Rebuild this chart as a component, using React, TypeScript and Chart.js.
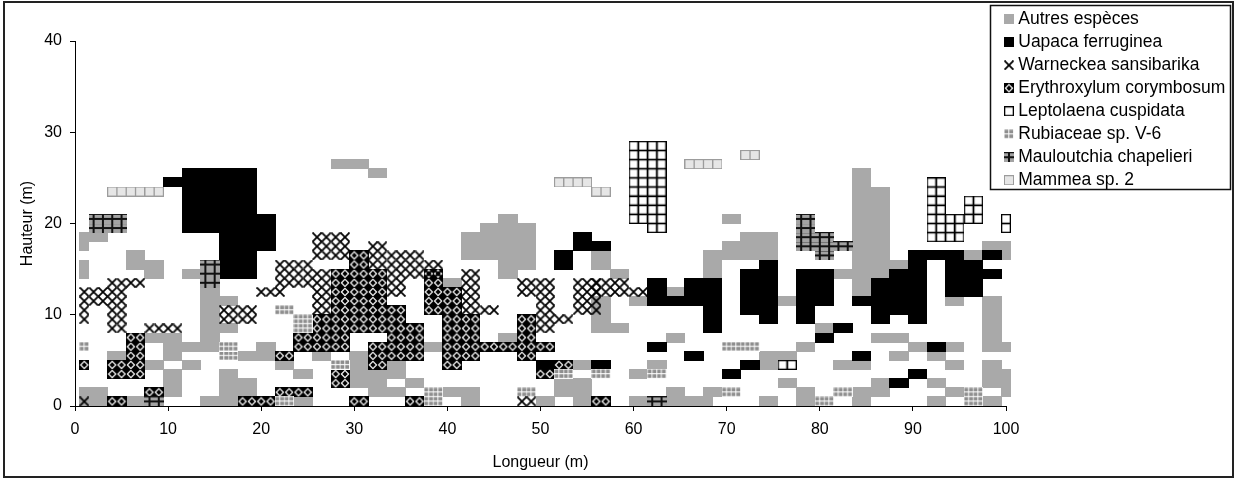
import React, { useEffect, useRef } from 'react';
import { Chart, registerables } from 'chart.js';

Chart.register(...registerables);

// ---------- data (cells of 1 m: [colFrom, colTo, rowFrom, rowTo], inclusive; col = x centre in m, row = height band in m) ----------
const speciesNames = [
  'Autres espèces',
  'Uapaca ferruginea',
  'Warneckea sansibarika',
  'Erythroxylum corymbosum',
  'Leptolaena cuspidata',
  'Rubiaceae sp. V-6',
  'Mauloutchia chapelieri',
  'Mammea sp. 2',
];
const speciesKinds = ['G', 'U', 'W', 'E', 'L', 'R', 'M', 'm'];
const drawOrder = [10, 6, 1, 5, 4, 3, 2, 3];

const autresCells = [
  [1,3,18,18],[1,1,17,17],[1,1,14,15],[6,7,16,16],[6,9,15,15],[8,9,14,14],
  [4,5,5,5],[8,11,7,7],[10,11,5,6],[8,9,4,4],[10,11,1,3],[1,3,0,1],[6,7,0,0],
  [12,13,14,14],[14,15,6,12],[12,13,6,6],[12,13,4,4],[16,17,11,11],[16,17,8,8],[18,19,5,5],[20,21,5,6],[16,17,0,3],[18,19,1,2],[14,15,0,0],
  [28,31,26,26],[32,33,25,25],[22,23,4,4],[26,27,5,5],[24,25,3,3],[30,31,2,5],[32,33,1,3],[24,25,0,0],
  [40,41,13,13],[38,39,6,6],[34,35,3,4],[36,37,2,2],[34,35,1,1],[40,41,1,1],[42,43,0,1],[42,43,16,18],[44,45,16,19],
  [46,47,14,20],[48,49,15,19],[46,47,7,7],[52,55,1,2],[54,55,4,4],[50,51,0,0],[54,55,0,0],
  [56,57,15,16],[58,59,14,14],[56,57,8,11],[58,59,8,8],[60,61,11,11],[64,65,12,12],[64,65,7,7],[60,61,3,3],[62,63,4,4],[60,68,0,0],[64,65,1,1],
  [70,71,20,20],[72,75,16,18],[70,71,16,17],[68,69,14,16],[76,77,11,11],[74,75,4,5],[76,77,5,5],[78,79,6,6],[76,77,2,2],[68,69,1,1],[74,75,0,0],[78,79,0,1],
  [84,85,12,25],[86,87,14,23],[88,89,15,15],[82,83,14,14],[80,81,8,8],[86,89,7,7],[88,89,5,5],[82,85,4,4],[86,87,1,2],[84,85,0,1],
  [96,97,16,16],[98,100,17,17],[100,100,16,16],[94,95,11,11],[98,99,6,11],[100,100,6,6],[90,91,6,6],[94,95,6,6],[92,93,5,5],[94,95,4,4],[92,93,2,2],[94,95,1,1],[98,99,2,4],[100,100,1,3],[92,93,0,0],[98,99,0,0],
];
const uapacaCells = [
  [10,11,24,24],[12,19,19,25],[20,21,17,20],[16,19,14,18],
  [54,55,17,18],[52,53,15,16],[56,57,17,17],[50,51,4,4],[56,57,4,4],
  [62,63,11,13],[64,65,11,11],[66,67,11,13],[68,69,8,13],[62,63,6,6],[66,67,5,5],
  [72,73,10,14],[74,75,9,15],[78,81,11,14],[78,79,9,10],[72,73,4,4],[70,71,3,3],
  [84,85,11,11],[86,87,9,13],[88,89,10,14],[90,91,9,16],[82,83,8,8],[80,81,7,7],[84,85,5,5],[88,89,2,2],[90,91,3,3],
  [92,95,16,16],[94,97,12,15],[98,99,16,16],[98,99,14,14],[92,93,6,6],
];
const warneckeaCells = [
  [4,7,13,13],[1,5,11,12],[1,1,9,10],[4,5,8,10],[8,11,8,8],[1,1,0,0],
  [16,19,9,10],[20,22,12,12],[22,25,13,15],[26,27,10,14],[26,29,16,18],[32,33,15,17],[34,37,16,16],[34,39,14,15],[34,35,12,13],
  [42,43,10,14],[44,45,10,10],[48,51,12,13],[50,51,8,11],[52,53,9,9],[54,56,10,13],[48,49,0,0],[56,59,12,13],[60,61,12,12],
];
const erythroxylumCells = [
  [1,1,4,4],[6,7,3,7],[4,5,3,4],[4,5,0,0],[8,9,1,1],
  [22,22,5,5],[18,21,0,0],[22,25,1,1],
  [30,31,8,16],[28,29,8,14],[32,33,8,14],[26,27,8,9],[24,29,6,7],[23,23,5,5],[28,29,2,3],[32,33,4,6],[30,31,0,0],
  [38,39,10,14],[40,41,5,12],[42,43,5,9],[34,35,5,10],[36,37,5,8],[44,45,6,6],[40,41,4,4],[36,37,0,0],
  [48,49,5,9],[45,51,6,6],[50,51,3,3],[52,53,4,4],[56,57,0,0],
];
const leptolaenaCells = [
  [60,61,20,28],[62,63,19,28],[76,77,4,4],[92,93,18,24],[94,95,18,20],[96,97,20,22],[100,100,19,20],
];
const rubiaceaeCells = [
  [1,1,6,6],[22,23,10,10],[24,25,8,9],[16,17,5,6],[28,29,4,4],[22,23,0,0],[38,39,0,1],[48,49,1,1],
  [52,53,3,3],[56,57,3,3],[62,63,3,3],[70,73,6,6],[70,71,1,1],[80,81,0,0],[82,83,1,1],[96,97,0,1],
];
const mauloutchiaCells = [
  [2,5,19,20],[14,15,13,15],[8,9,0,0],[62,63,0,0],[78,79,17,20],[80,81,16,18],[82,83,17,17],
];
const mammeaCells = [
  [4,9,23,23],[52,55,24,24],[56,57,23,23],[66,69,26,26],[72,73,27,27],
];
const speciesCells = [
  autresCells, uapacaCells, warneckeaCells, erythroxylumCells,
  leptolaenaCells, rubiaceaeCells, mauloutchiaCells, mammeaCells,
];

const xTitle = 'Longueur (m)';
const yTitle = 'Hauteur (m)';
const FONT = "'Liberation Sans', Arial, Helvetica, sans-serif";

// ---------- helpers ----------
function cellsToPoints(rects: number[][]) {
  const pts: { x: number; y: number }[] = [];
  for (const [c0, c1, r0, r1] of rects) {
    for (let c = c0; c <= c1; c++) {
      for (let r = r0; r <= r1; r++) pts.push({ x: c, y: r + 0.5 });
    }
  }
  return pts;
}

const imageCache: Record<string, HTMLCanvasElement> = {};
function cellImage(kind: string, chart: any): HTMLCanvasElement {
  let w = 9.31;
  let h = 9.125;
  const xs = chart && chart.scales ? chart.scales.x : null;
  const ys = chart && chart.scales ? chart.scales.y : null;
  if (xs && ys) {
    const ww = Math.abs(xs.getPixelForValue(1) - xs.getPixelForValue(0));
    const hh = Math.abs(ys.getPixelForValue(1) - ys.getPixelForValue(0));
    if (isFinite(ww) && ww > 2 && isFinite(hh) && hh > 2) {
      w = ww;
      h = hh;
    }
  }
  const W = Math.round(w) + 1;
  const H = Math.round(h) + 1;
  const key = kind + ':' + W + 'x' + H;
  if (imageCache[key]) return imageCache[key];
  const cv = document.createElement('canvas');
  cv.width = W;
  cv.height = H;
  const c = cv.getContext('2d')!;
  switch (kind) {
    case 'G':
      c.fillStyle = '#a9a9a9';
      c.fillRect(0, 0, W, H);
      break;
    case 'U':
      c.fillStyle = '#000';
      c.fillRect(0, 0, W, H);
      break;
    case 'W':
      c.strokeStyle = '#000';
      c.lineWidth = 1.8;
      c.beginPath();
      c.moveTo(0.5, 0.5);
      c.lineTo(W - 0.5, H - 0.5);
      c.moveTo(W - 0.5, 0.5);
      c.lineTo(0.5, H - 0.5);
      c.stroke();
      break;
    case 'E':
      c.fillStyle = '#000';
      c.fillRect(0, 0, W, H);
      c.strokeStyle = '#fff';
      c.lineWidth = 1.2;
      c.beginPath();
      c.moveTo(W / 2, 1.4);
      c.lineTo(W - 1.4, H / 2);
      c.lineTo(W / 2, H - 1.4);
      c.lineTo(1.4, H / 2);
      c.closePath();
      c.stroke();
      break;
    case 'L':
      c.fillStyle = '#fff';
      c.fillRect(0, 0, W, H);
      c.strokeStyle = '#000';
      c.lineWidth = 1.3;
      c.strokeRect(0.65, 0.65, W - 1.3, H - 1.3);
      break;
    case 'R':
      c.fillStyle = '#fff';
      c.fillRect(0, 0, W, H);
      c.fillStyle = '#8e8e8e';
      c.fillRect(0.5, 0.5, 3.8, 3.6);
      c.fillRect(5.3, 0.5, 3.8, 3.6);
      c.fillRect(0.5, 5.2, 3.8, 3.6);
      c.fillRect(5.3, 5.2, 3.8, 3.6);
      break;
    case 'M':
      c.fillStyle = '#a3a3a3';
      c.fillRect(0, 0, W, H);
      c.fillStyle = '#111';
      c.fillRect(W / 2 - 1, 0, 2, H);
      c.fillRect(0, H / 2 - 1, W, 2);
      c.fillRect(0, 0, W, 1);
      break;
    case 'm':
    default:
      c.fillStyle = '#e6e6e6';
      c.fillRect(0, 0, W, H);
      c.strokeStyle = '#9c9c9c';
      c.lineWidth = 1;
      c.strokeRect(0.5, 0.5, W - 1, H - 1);
      break;
  }
  imageCache[key] = cv;
  return cv;
}

// ---------- plugins ----------
const legendPlacer = {
  id: 'legendPlacer',
  afterLayout(chart: any) {
    const lg = chart.legend;
    if (!lg) return;
    lg.left = 1003;
    lg.top = 5;
    lg.right = 1236;
    lg.bottom = 478;
    lg.width = lg.right - lg.left;
    lg.height = lg.bottom - lg.top;
  },
};

const frames = {
  id: 'frames',
  beforeDraw(chart: any) {
    const ctx = chart.ctx;
    ctx.save();
    ctx.fillStyle = '#fff';
    ctx.fillRect(0, 0, chart.width, chart.height);
    ctx.restore();
  },
  afterDraw(chart: any) {
    const ctx = chart.ctx;
    ctx.save();
    ctx.strokeStyle = '#222';
    ctx.lineWidth = 2;
    ctx.strokeRect(4, 2, 1229, 475);
    ctx.lineWidth = 1.5;
    ctx.strokeStyle = '#111';
    ctx.strokeRect(990.5, 5.5, 240, 184);
    ctx.restore();
  },
};

export default function App() {
  const ref = useRef<HTMLCanvasElement>(null);

  useEffect(() => {
    if (!ref.current) return;
    Chart.defaults.font.family = FONT;
    Chart.defaults.color = '#000';

    const datasets = speciesNames.map((name, i) => ({
      type: 'scatter' as const,
      label: name,
      data: cellsToPoints(speciesCells[i]),
      pointStyle: (ctx: any) => cellImage(speciesKinds[i], ctx.chart),
      pointRadius: 5,
      pointHoverRadius: 5,
      borderWidth: 0,
      backgroundColor: '#000',
      borderColor: '#000',
      clip: false as any,
      order: drawOrder[i],
    }));

    const chart = new Chart(ref.current, {
      type: 'scatter',
      data: { datasets },
      options: {
        responsive: false,
        animation: false,
        devicePixelRatio: 1,
        events: [],
        layout: { padding: { left: 0, right: 232, top: 41, bottom: 0 } },
        scales: {
          x: {
            type: 'linear',
            position: 'bottom',
            min: 0,
            max: 100,
            ticks: { stepSize: 10, color: '#000', font: { size: 16 }, padding: 9, maxRotation: 0 },
            grid: { display: true, drawOnChartArea: false, drawTicks: true, tickLength: 5, color: '#000' },
            border: { display: true, color: '#000', width: 1 },
            title: { display: true, text: xTitle, color: '#000', font: { size: 16 }, padding: { top: 0, bottom: 8 } },
            afterFit: (s: any) => { s.height = 74; },
          },
          y: {
            type: 'linear',
            position: 'left',
            min: 0,
            max: 40,
            ticks: { stepSize: 10, color: '#000', font: { size: 16 }, padding: 8 },
            grid: { display: true, drawOnChartArea: false, drawTicks: true, tickLength: 5, color: '#000' },
            border: { display: true, color: '#000', width: 1 },
            title: { display: true, text: yTitle, color: '#000', font: { size: 16 }, padding: { top: 18, bottom: 0 } },
            afterFit: (s: any) => { s.width = 75; },
          },
        },
        plugins: {
          legend: {
            display: true,
            position: 'chartArea' as any,
            align: 'start',
            labels: {
              usePointStyle: true,
              pointStyleWidth: 1,
              color: '#000',
              font: { size: 17.5 },
              padding: 5.5,
              sort: (a: any, b: any) => a.datasetIndex - b.datasetIndex,
            },
          },
          tooltip: { enabled: false },
        },
      } as any,
      plugins: [legendPlacer, frames],
    });
    return () => chart.destroy();
  }, []);

  return (
    <div style={{ position: 'fixed', left: 0, top: 0, width: 1238, height: 480, background: '#fff' }}>
      <canvas ref={ref} width={1238} height={480} style={{ display: 'block', width: 1238, height: 480 }} />
    </div>
  );
}
